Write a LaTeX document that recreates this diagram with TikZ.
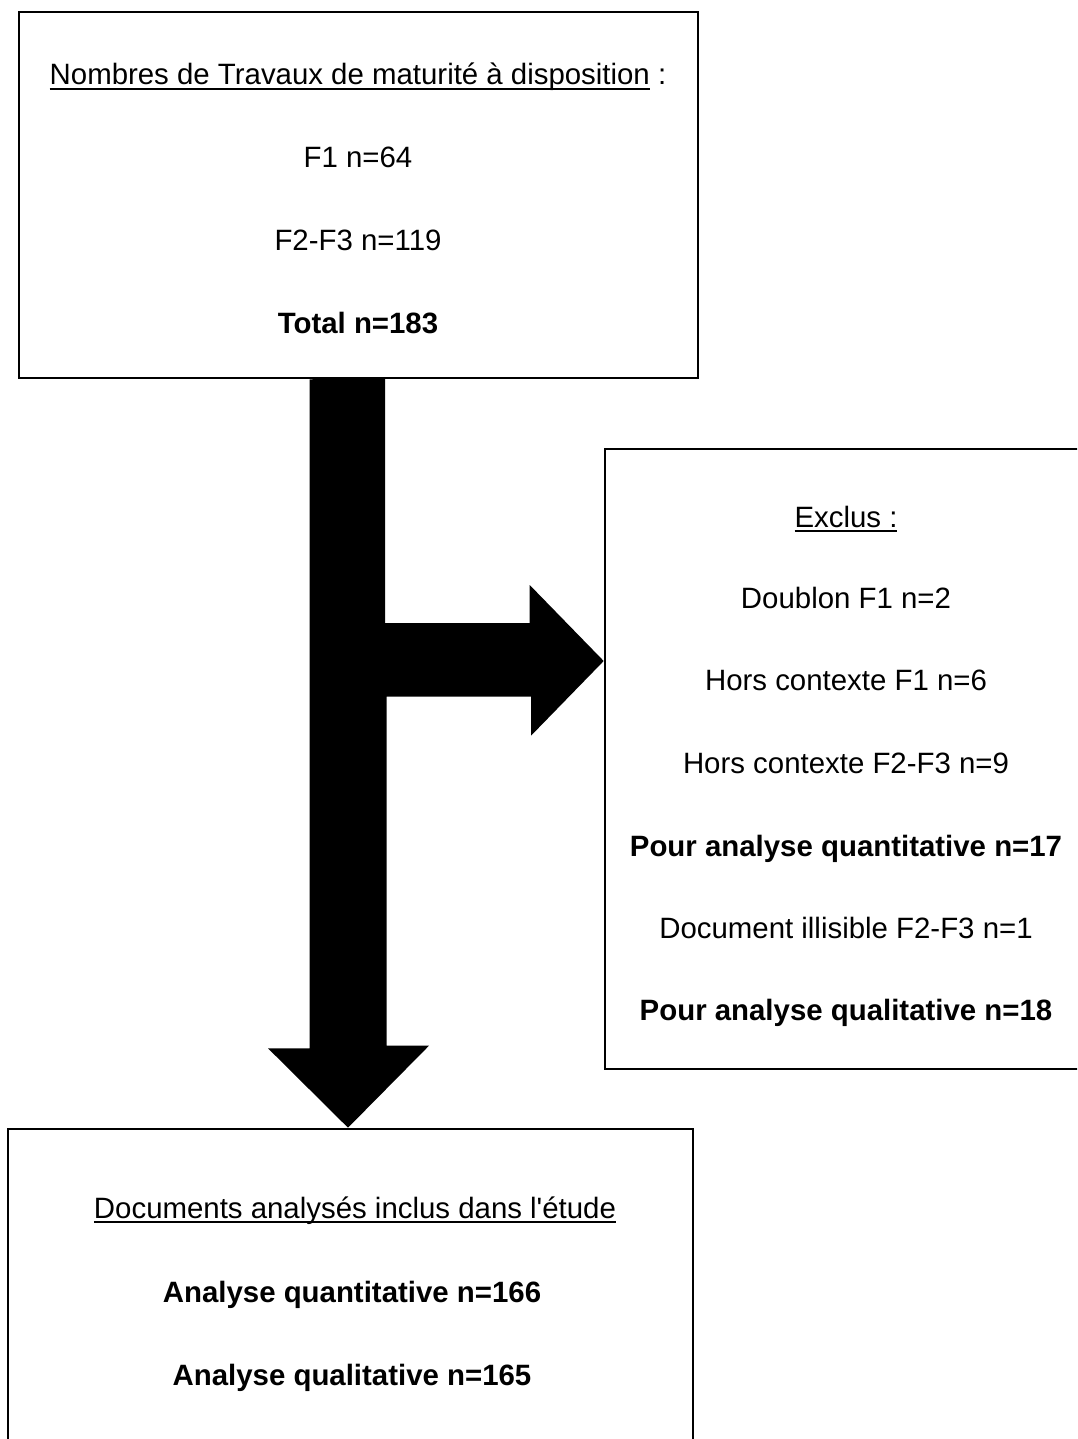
\documentclass[tikz,border=0pt]{standalone}
\usepackage{fontspec}
\setmainfont{Liberation Sans}
\usetikzlibrary{calc}
\newcommand{\ulined}[1]{\setbox0\hbox{#1}\rlap{\rule[-2.3pt]{\wd0}{0.95pt}}\box0\relax}

\begin{document}
\begin{tikzpicture}[
    x=0.5pt, y=-0.5pt,
    box/.style={draw=black, line width=1.3pt, inner sep=0pt},
    txt/.style={font=\fontsize{14.7}{18}\selectfont, anchor=base, inner sep=0pt},
    bold/.style={txt, font=\fontsize{14.7}{18}\selectfont\bfseries},
    flow/.style={fill=black},
  ]

  \useasboundingbox (0,0) rectangle (1077,1439);
  \clip (0,0) rectangle (1077,1439);

  % boxes
  \node[box, minimum width=339.5pt, minimum height=183pt] (top) at (358.5,195) {};
  \node[box, minimum width=247.5pt, minimum height=310pt] (excl) at (852.5,759) {};
  \node[box, minimum width=342.5pt, minimum height=165.5pt] (bot) at (350.5,1294.5) {};
  \coordinate (split) at (348,661);

  % block arrow
  \fill[flow] (top.south -| split) ++(-38.5,0) -- ++(0,669) -- ++(-41.5,0)
    -- (bot.north -| split) -- ++(81,-82) -- ++(-42.5,0) -- ++(0,-349)
    -- ++(144.5,0) -- ++(0,39) -- (excl.west |- split) -- ++(-74,-76)
    -- ++(0,38) -- ++(-144.5,0) -- ++(0,-245) -- cycle;

  % top box text
  \node[txt] (t1) at (358,85) {\ulined{Nombres de Travaux de maturité à disposition} :};
  \node[txt] (t2) at (358,168) {F1 n=64};
  \node[txt] (t3) at (358,250) {F2-F3 n=119};
  \node[bold] (t4) at (358,333) {Total n=183};

  % excluded
  \node[txt] (e1) at (846,527) {\ulined{Exclus :}};
  \node[txt] (e2) at (846,608) {Doublon F1 n=2};
  \node[txt] (e3) at (846,690) {Hors contexte F1 n=6};
  \node[txt] (e4) at (846,773) {Hors contexte F2-F3 n=9};
  \node[bold] (e5) at (846,856) {Pour analyse quantitative n=17};
  \node[txt] (e6) at (846,938) {Document illisible F2-F3 n=1};
  \node[bold] (e7) at (846,1020) {Pour analyse qualitative n=18};

  % included
  \node[txt] (b1) at (355,1218) {\ulined{Documents analysés inclus dans l\textquotesingle étude}};
  \node[bold] (b2) at (352,1302) {Analyse quantitative n=166};
  \node[bold] (b3) at (352,1385) {Analyse qualitative n=165};

\end{tikzpicture}
\end{document}
